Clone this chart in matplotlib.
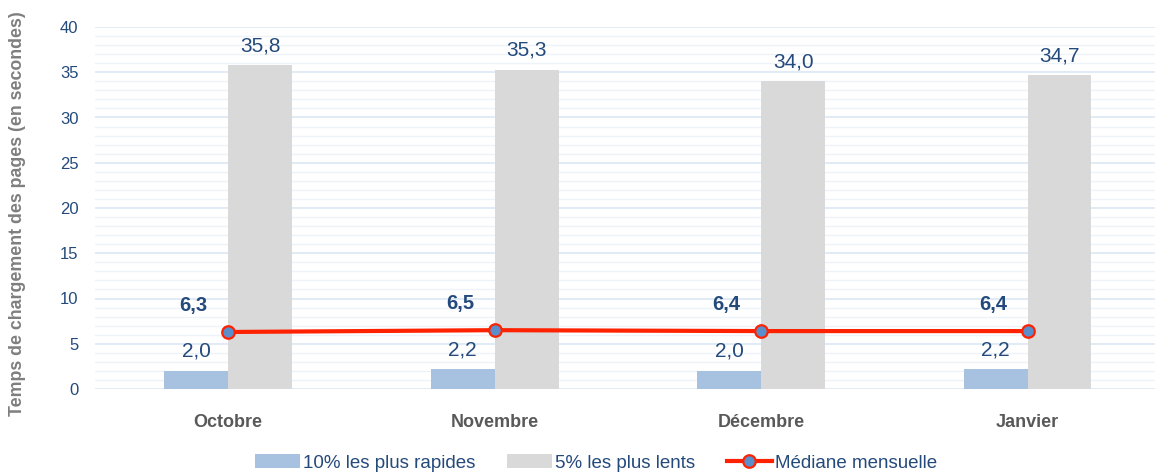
"""Temps de chargement des pages : rapides, lents et médiane mensuelle."""

import matplotlib

matplotlib.use("Agg")
import matplotlib.pyplot as plt
from matplotlib.lines import Line2D
from matplotlib.patches import Patch
from matplotlib.ticker import MultipleLocator

months = ["Octobre", "Novembre", "Décembre", "Janvier"]
fastest_10 = [2.0, 2.2, 2.0, 2.2]
slowest_5 = [35.8, 35.3, 34.0, 34.7]
median = [6.3, 6.5, 6.4, 6.4]

legend_labels = ["10% les plus rapides", "5% les plus lents", "Médiane mensuelle"]


def fr(v):
    return f"{v:.1f}".replace(".", ",")


def main() -> None:
    plt.rcParams.update(
        {
            "font.family": ["Liberation Sans", "DejaVu Sans"],
            "axes.spines.top": False,
            "axes.spines.right": False,
            "axes.spines.left": False,
            "axes.spines.bottom": False,
        }
    )

    blue = "#a7c2e0"
    grey = "#d9d9d9"
    red = "#ff2200"
    navy = "#244a7c"
    label_grey = "#595959"

    fig = plt.figure(figsize=(11.55, 4.73), dpi=100)
    ax = fig.add_axes([95 / 1155, 84 / 473, 1060 / 1155, 362 / 473])

    x = list(range(len(months)))
    w = 0.24
    ax.bar([i - w / 2 for i in x], fastest_10, width=w, color=blue, zorder=2)
    ax.bar([i + w / 2 for i in x], slowest_5, width=w, color=grey, zorder=2)
    ax.plot(x, median, color=red, lw=3, marker="o", markersize=9,
            markerfacecolor="#5b8fcc", markeredgecolor=red, markeredgewidth=1.6,
            zorder=4, clip_on=False)

    for i in x:
        ax.annotate(fr(fastest_10[i]), (i - w / 2, fastest_10[i]), xytext=(0, 14),
                    textcoords="offset points", ha="center", va="center",
                    fontsize=15, color=navy)
        ax.annotate(fr(slowest_5[i]), (i + w / 2, slowest_5[i]), xytext=(0, 14),
                    textcoords="offset points", ha="center", va="center",
                    fontsize=15, color=navy)
        ax.annotate(fr(median[i]), (i - w / 2, median[i]), xytext=(-2, 19),
                    textcoords="offset points", ha="center", va="center",
                    fontsize=14.5, fontweight="bold", color=navy)

    ax.set_xlim(-0.5, (1155 - 228) / 266.5)
    ax.set_ylim(0, 40)
    ax.yaxis.set_major_locator(MultipleLocator(5))
    ax.yaxis.set_minor_locator(MultipleLocator(1))
    ax.grid(axis="y", which="major", color="#dce7f3", lw=1.2, zorder=0)
    ax.grid(axis="y", which="minor", color="#eef3f9", lw=1.0, zorder=0)
    ax.set_axisbelow(True)

    ax.set_xticks(x)
    ax.set_xticklabels(months, fontsize=13, fontweight="bold", color=label_grey)
    ax.tick_params(axis="x", length=0, pad=18)
    ax.tick_params(axis="y", which="both", length=0, pad=12, labelsize=12,
                   labelcolor=navy)

    fig.text(18 / 1155, 1 - 214 / 473, "Temps de chargement des pages (en secondes)",
             rotation=90, ha="center", va="center", fontsize=12.8,
             fontweight="bold", color="#7f7f7f")

    handles = [
        Patch(facecolor=blue, edgecolor="none"),
        Patch(facecolor=grey, edgecolor="none"),
        Line2D([], [], color=red, lw=3, marker="o", markersize=9,
               markerfacecolor="#5b8fcc", markeredgecolor=red, markeredgewidth=1.6),
    ]
    leg = fig.legend(handles, legend_labels, loc="center", ncol=3,
                     bbox_to_anchor=(596 / 1155, 1 - 463 / 473), frameon=False,
                     fontsize=13.5, handlelength=2.4, handletextpad=0.15,
                     columnspacing=1.7)
    for t in leg.get_texts():
        t.set_color(navy)

    fig.savefig("out.png", dpi=100)
    plt.close(fig)


if __name__ == "__main__":
    main()
